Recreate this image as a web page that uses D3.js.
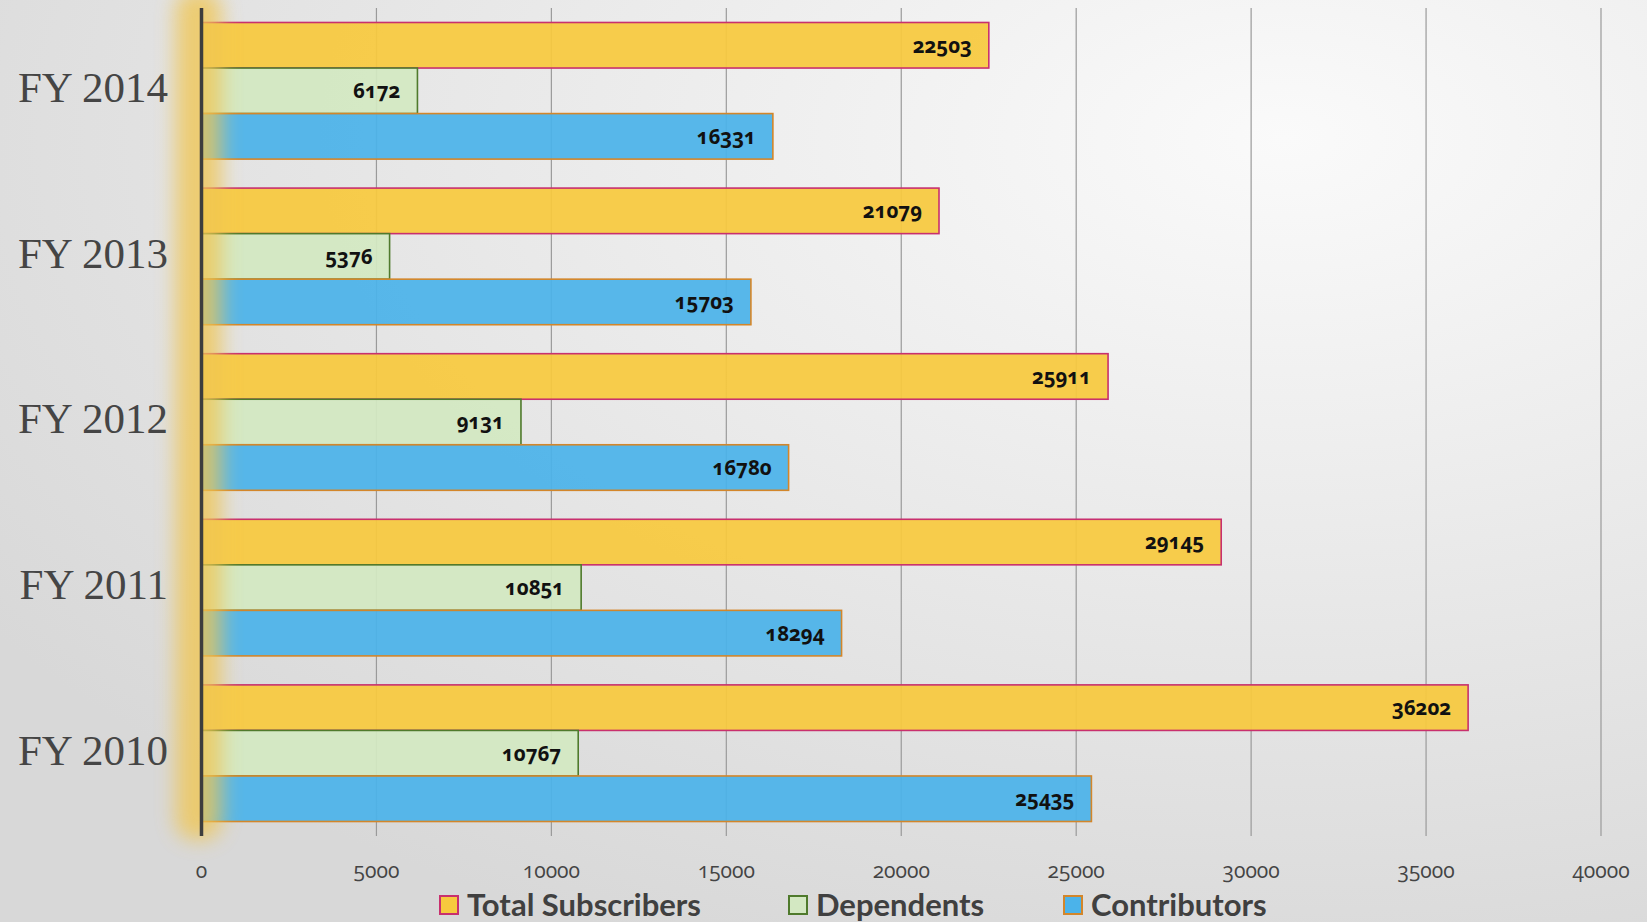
<!DOCTYPE html>
<html>
<head>
<meta charset="utf-8">
<script src="https://cdn.jsdelivr.net/npm/d3@7"></script>
<style>
  body { margin: 0; overflow: hidden; }
  svg { display: block; }
</style>
</head>
<body>
<div id="container"></div>
<script>
/* CONSTANTS AND GLOBALS */
const width = 1647,
  height = 922,
  margin = { top: 8, bottom: 86, left: 201.5, right: 46 };

/* DATA */
const years = ["FY 2014", "FY 2013", "FY 2012", "FY 2011", "FY 2010"];
const seriesNames = ["Total Subscribers", "Dependents", "Contributors"];
const totalSubscribers = [22503, 21079, 25911, 29145, 36202];
const dependents = [6172, 5376, 9131, 10851, 10767];
const contributors = [16331, 15703, 16780, 18294, 25435];
const xTicks = [0, 5000, 10000, 15000, 20000, 25000, 30000, 35000, 40000];

const seriesValues = [totalSubscribers, dependents, contributors];
const fills = ["#F7C93E", "#D3E8C2", "#4BB3EA"];
const strokes = ["#C8306E", "#4F7A2C", "#D3862A"];

// rows for bars
const rows = [];
years.forEach((y, i) => {
  seriesNames.forEach((s, j) => {
    rows.push({ year: y, series: s, value: seriesValues[j][i], idx: j });
  });
});

/* SCALES */
const xScale = d3.scaleLinear()
  .domain([0, 40000])
  .range([margin.left, width - margin.right]);

const yScale = d3.scaleBand()
  .domain(years)
  .range([margin.top, height - margin.bottom])
  .paddingInner(0.175)
  .paddingOuter(0.0875);

const ySub = d3.scaleBand()
  .domain(seriesNames)
  .range([0, yScale.bandwidth()]);

/* SVG */
const svg = d3.select("#container")
  .append("svg")
  .attr("width", width)
  .attr("height", height);

const defs = svg.append("defs");
const bg = defs.append("radialGradient")
  .attr("id", "bg")
  .attr("cx", "78%").attr("cy", "15%").attr("r", "95%");
bg.append("stop").attr("offset", "0%").attr("stop-color", "#fafafa");
bg.append("stop").attr("offset", "100%").attr("stop-color", "#d8d8d8");

defs.append("filter")
  .attr("id", "glow")
  .attr("x", "-100%").attr("y", "-10%").attr("width", "300%").attr("height", "120%")
  .append("feGaussianBlur")
  .attr("stdDeviation", 10);

svg.append("rect")
  .attr("width", width)
  .attr("height", height)
  .attr("fill", "url(#bg)");

// gridlines
svg.append("g")
  .selectAll("line")
  .data(xTicks.slice(1))
  .join("line")
  .attr("x1", d => xScale(d))
  .attr("x2", d => xScale(d))
  .attr("y1", margin.top)
  .attr("y2", height - margin.bottom)
  .attr("stroke", "#9a9a9a")
  .attr("stroke-width", 1.2);

// bars
svg.append("g")
  .selectAll("rect")
  .data(rows)
  .join("rect")
  .attr("x", xScale(0))
  .attr("y", d => yScale(d.year) + ySub(d.series))
  .attr("width", d => xScale(d.value) - xScale(0))
  .attr("height", ySub.bandwidth())
  .attr("fill", d => fills[d.idx])
  .attr("fill-opacity", 0.93)
  .attr("stroke", d => strokes[d.idx])
  .attr("stroke-width", 1.6);

// glow near the axis
svg.append("rect")
  .attr("x", xScale(0) - 26)
  .attr("y", -10)
  .attr("width", 46)
  .attr("height", height - margin.bottom + 14)
  .attr("rx", 20)
  .attr("fill", "#F0C653")
  .attr("opacity", 0.78)
  .attr("filter", "url(#glow)");

// value labels
svg.append("g")
  .selectAll("text")
  .data(rows)
  .join("text")
  .attr("x", d => xScale(d.value) - 17)
  .attr("y", d => yScale(d.year) + ySub(d.series) + ySub.bandwidth() / 2)
  .attr("dy", "0.36em")
  .attr("text-anchor", "end")
  .attr("font-family", "'Open Sans', sans-serif")
  .attr("font-weight", 700)
  .attr("font-size", 20.5)
  .style("font-variant-numeric", "oldstyle-nums")
  .attr("fill", "#111")
  .text(d => d.value);

// y axis line
svg.append("line")
  .attr("x1", xScale(0)).attr("x2", xScale(0))
  .attr("y1", margin.top).attr("y2", height - margin.bottom)
  .attr("stroke", "#3d3d3d")
  .attr("stroke-width", 3.5);

// y labels
svg.append("g")
  .selectAll("text")
  .data(years)
  .join("text")
  .attr("x", 168)
  .attr("y", d => yScale(d) + yScale.bandwidth() / 2 - 4)
  .attr("dy", "0.36em")
  .attr("text-anchor", "end")
  .attr("font-family", "'Liberation Serif', serif")
  .attr("font-size", 43)
  .attr("fill", "#454545")
  .text(d => d);

// x tick labels
svg.append("g")
  .selectAll("text")
  .data(xTicks)
  .join("text")
  .attr("x", d => xScale(d))
  .attr("y", 870)
  .attr("dy", "0.36em")
  .attr("text-anchor", "middle")
  .attr("font-family", "'Open Sans', sans-serif")
  .attr("font-size", 21)
  .style("font-variant-numeric", "oldstyle-nums")
  .attr("fill", "#444")
  .text(d => d);

// legend
const legendX = [440, 789, 1064];
const legend = svg.append("g")
  .selectAll("g")
  .data(seriesNames)
  .join("g")
  .attr("transform", (d, i) => `translate(${legendX[i]}, 896)`);

legend.append("rect")
  .attr("width", 18)
  .attr("height", 18)
  .attr("fill", (d, i) => fills[i])
  .attr("stroke", (d, i) => strokes[i])
  .attr("stroke-width", 2);

legend.append("text")
  .attr("x", 27)
  .attr("y", 9)
  .attr("dy", "0.36em")
  .attr("font-family", "Lato, 'Open Sans', sans-serif")
  .attr("font-weight", 700)
  .attr("font-size", 31)
  .attr("fill", "#404040")
  .text(d => d);
</script>
</body>
</html>
